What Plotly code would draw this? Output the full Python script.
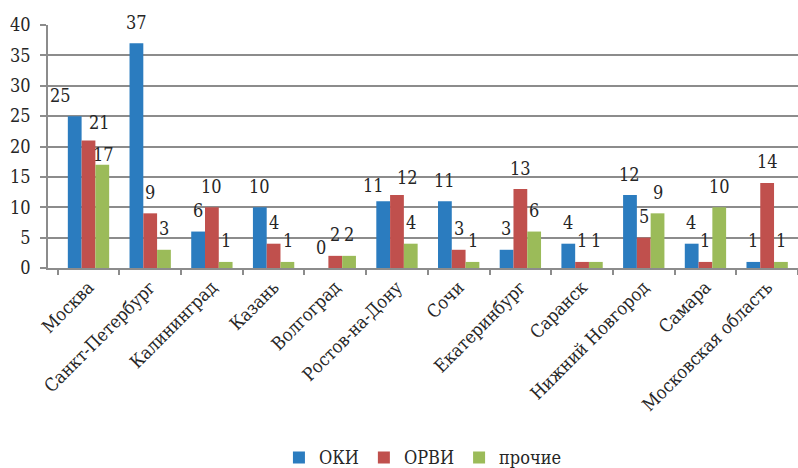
import plotly.graph_objects as go

categories = ["Москва", "Санкт-Петербург", "Калининград", "Казань", "Волгоград",
              "Ростов-на-Дону", "Сочи", "Екатеринбург", "Саранск",
              "Нижний Новгород", "Самара", "Московская область"]
oki = [25, 37, 6, 10, 0, 11, 11, 3, 4, 12, 4, 1]
orvi = [21, 9, 10, 4, 2, 12, 3, 13, 1, 5, 1, 14]
prochie = [17, 3, 1, 1, 2, 4, 1, 6, 1, 9, 10, 1]

series = [("ОКИ", oki, "#2B7CBF"), ("ОРВИ", orvi, "#C0504D"), ("прочие", prochie, "#9BBB59")]

FONT = "DejaVu Serif Condensed, DejaVu Serif"
TXT = "#262626"

fig = go.Figure()
for name, vals, col in series:
    fig.add_trace(go.Bar(x=categories, y=vals, name=name, marker_color=col,
                         marker_line_width=0))

bar_px = 14
offsets = [-bar_px, 0, bar_px]
tweaks = {(0, 0): (-14, 21), (0, 1): (11, 18), (0, 2): (1, 10),
          (5, 0): (-9, 16), (5, 1): (11, 18)}
for si, (name, vals, col) in enumerate(series):
    for ci, v in enumerate(vals):
        dx, dy = tweaks.get((ci, si), (0, 21))
        fig.add_annotation(x=categories[ci], y=v, text=str(v), showarrow=False,
                           xshift=offsets[si] + dx, yshift=dy, yanchor="middle",
                           xanchor="center",
                           font=dict(family=FONT, size=18, color=TXT))

fig.update_layout(
    width=798, height=468,
    margin=dict(l=48, r=0, t=25, b=200),
    paper_bgcolor="white", plot_bgcolor="white",
    barmode="group", bargap=0.33, bargroupgap=0,
    font=dict(family=FONT, size=18, color=TXT),
    legend=dict(orientation="h", xref="container", yref="container",
                x=0.53, xanchor="center", y=0.022, yanchor="middle",
                font=dict(family=FONT, size=18, color=TXT),
                itemwidth=30, tracegroupgap=0),
    showlegend=True,
)
fig.update_xaxes(type="category", tickangle=-45, showline=True, linecolor="#8c8c8c",
                 linewidth=1.5, ticks="outside", tickson="boundaries", ticklen=5,
                 tickcolor="#8c8c8c", tickwidth=1.5, showgrid=False,
                 tickfont=dict(family=FONT, size=18, color=TXT))
fig.update_yaxes(range=[0, 40], dtick=5, showline=True, linecolor="#8c8c8c", linewidth=1.5,
                 ticks="outside", ticklen=6, tickcolor="#8c8c8c", tickwidth=1.5,
                 showgrid=True, gridcolor="#8c8c8c", gridwidth=1.5, zeroline=False,
                 ticklabelstandoff=6,
                 tickfont=dict(family=FONT, size=18, color=TXT))

fig.write_html("out.html")
